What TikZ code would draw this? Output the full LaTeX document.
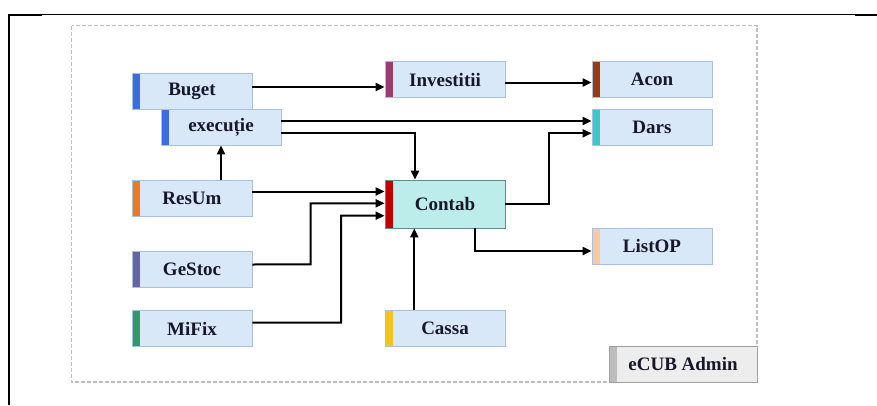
\documentclass[tikz,border=0pt]{standalone}
\usepackage{fontspec}
\setmainfont{Liberation Serif}
\usetikzlibrary{arrows.meta}
\definecolor{boxfill}{HTML}{D9E8F8}
\definecolor{boxline}{HTML}{A8C2DE}
\definecolor{contabfill}{HTML}{BCEDEA}
\definecolor{contabline}{HTML}{5E8E88}
\definecolor{cBlue}{HTML}{3A6EE0}
\definecolor{cOrange}{HTML}{EE7A1E}
\definecolor{cSlate}{HTML}{6466A2}
\definecolor{cGreen}{HTML}{2E9A6C}
\definecolor{cPlum}{HTML}{9A3C6C}
\definecolor{cBrown}{HTML}{983C14}
\definecolor{cTeal}{HTML}{3EC6C8}
\definecolor{cRed}{HTML}{C00000}
\definecolor{cPeach}{HTML}{F6C9A2}
\definecolor{cGold}{HTML}{F2C41E}
\definecolor{cGrey}{HTML}{BDBDBD}
\definecolor{txt}{HTML}{16182A}
\tikzset{
  modbox/.style={draw=boxline, line width=0.8pt, fill=boxfill,
    minimum width=120pt, minimum height=36pt, inner sep=0pt,
    text=txt, font=\fontsize{19}{21}\selectfont\bfseries,
    path picture={\fill[#1] (path picture bounding box.north west)
      rectangle ([xshift=8pt]path picture bounding box.south west);}},
  arr/.style={line width=2pt, -{Triangle[length=9pt,width=8pt]}}
}
\begin{document}
\begin{tikzpicture}[x=1pt,y=-1pt]
\useasboundingbox (0,0) rectangle (877,405);
% page rules
\draw[line width=1pt] (8,14.5) -- (877,14.5);
\draw[line width=2pt] (8,14.5) -- (42,14.5);
\draw[line width=2pt] (855,14.5) -- (877,14.5);
\draw[line width=2pt] (9.3,13.5) -- (9.3,405);
% module frame
\draw[gray!50, line width=1.2pt, dash pattern=on 4pt off 2pt] (71.5,25.5) rectangle (757,382);

% modules
\node[modbox=cBlue] (buget) at (192,91) {Buget};
\node[modbox=cBlue] (exec) at (221,127) {execuție};
\node[modbox=cOrange] (resum) at (192,198.5) {ResUm};
\node[modbox=cSlate] (gestoc) at (192,269.5) {GeStoc};
\node[modbox=cGreen] (mifix) at (192,328.5) {MiFix};
\node[modbox=cPlum] (invest) at (445,79.5) {Investitii};
\node[modbox=cBrown] (acon) at (652,79.5) {Acon};
\node[modbox=cTeal] (dars) at (652,127) {Dars};
\node[modbox=cRed, fill=contabfill, draw=contabline, minimum height=48pt] (contab) at (445,204) {Contab};
\node[modbox=cPeach] (listop) at (652,246) {ListOP};
\node[modbox=cGold] (cassa) at (445,328.5) {Cassa};
\node[modbox=cGrey, fill=gray!14, draw=gray!75, minimum width=148pt] (ecub) at (683,364) {eCUB Admin};

% connectors
\draw[arr] ([yshift=4pt]buget.east) coordinate (b1) -- (b1 -| invest.west);
\draw[arr] ([yshift=-3pt]invest.east) coordinate (i1) -- (i1 -| acon.west);
\draw[arr] ([yshift=6pt]exec.east) coordinate (e1) -- (e1 -| dars.west);
\draw[arr] ([yshift=-6pt]exec.east) -| ([xshift=-30pt]contab.north);
\draw[arr] (exec.south |- resum.north) -- (exec.south);
\draw[arr] ([yshift=7pt]resum.east) coordinate (r1) -- (r1 -| contab.west);
\draw[arr] ([yshift=5pt]gestoc.east) -- (310.7,264.3) -- (310.7,203.3) coordinate (g1) -- (g1 -| contab.west);
\draw[arr] ([yshift=6pt]mifix.east) -- (341,322.7) -- (341,215.7) coordinate (m1) -- (m1 -| contab.west);
\draw[arr] ([xshift=-30.7pt]cassa.north) -- ([xshift=-30.7pt]contab.south);
\draw[arr] (contab.east) -- (549.3,204) -- (549.3,133.3) coordinate (c1) -- (c1 -| dars.west);
\draw[arr] ([xshift=30pt]contab.south) |- ([yshift=-5pt]listop.west);
\end{tikzpicture}
\end{document}
